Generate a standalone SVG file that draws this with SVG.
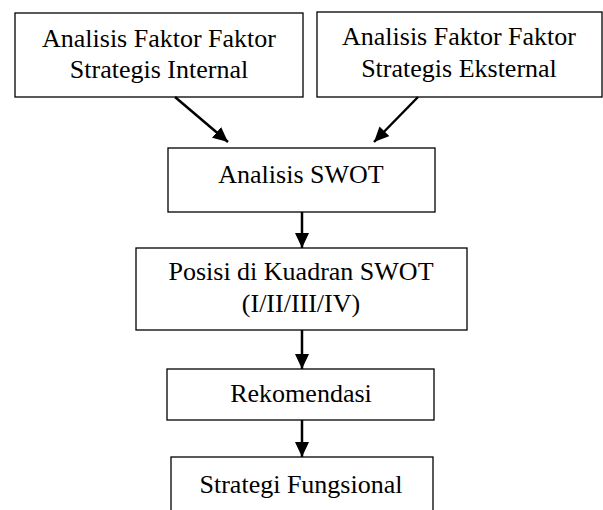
<svg xmlns="http://www.w3.org/2000/svg" width="603" height="510" viewBox="0 0 603 510">
<style>
.box{fill:#fff;stroke:#000;stroke-width:1.3}
.t{font-family:"Liberation Serif","Times New Roman",serif;font-size:26px;fill:#000;text-anchor:middle}
.c{stroke:#000;stroke-width:2.5;fill:none}
</style>
<defs>
<marker id="ah" markerUnits="userSpaceOnUse" markerWidth="17" markerHeight="15" refX="15" refY="7" orient="auto">
<path d="M0,0 L15,7 L0,14 z" fill="#000"/>
</marker>
</defs>
<rect width="603" height="510" fill="#fff"/>
<g id="internal">
<rect class="box" x="15" y="13" width="288" height="84"/>
<text class="t" x="159" y="47">Analisis Faktor Faktor</text>
<text class="t" x="159" y="78">Strategis Internal</text>
</g>
<g id="eksternal">
<rect class="box" x="317" y="12" width="285" height="85"/>
<text class="t" x="459" y="45">Analisis Faktor Faktor</text>
<text class="t" x="459" y="77">Strategis Eksternal</text>
</g>
<g id="swot">
<rect class="box" x="168" y="148" width="267" height="64"/>
<text class="t" x="301" y="183">Analisis SWOT</text>
</g>
<g id="posisi">
<rect class="box" x="136" y="248" width="331" height="82"/>
<text class="t" x="301" y="280">Posisi di Kuadran SWOT</text>
<text class="t" x="301" y="312">(I/II/III/IV)</text>
</g>
<g id="rekomendasi">
<rect class="box" x="167" y="369" width="267" height="51"/>
<text class="t" x="301" y="402">Rekomendasi</text>
</g>
<g id="strategi">
<rect class="box" x="171" y="457" width="262" height="70"/>
<text class="t" x="301" y="493">Strategi Fungsional</text>
</g>
<g id="connectors">
<line class="c" x1="175" y1="97" x2="228" y2="142" marker-end="url(#ah)"/>
<line class="c" x1="418" y1="97" x2="374" y2="142" marker-end="url(#ah)"/>
<line class="c" x1="302" y1="212" x2="302" y2="248" marker-end="url(#ah)"/>
<line class="c" x1="302" y1="330" x2="302" y2="369" marker-end="url(#ah)"/>
<line class="c" x1="302" y1="420" x2="302" y2="457" marker-end="url(#ah)"/>
</g>
</svg>
